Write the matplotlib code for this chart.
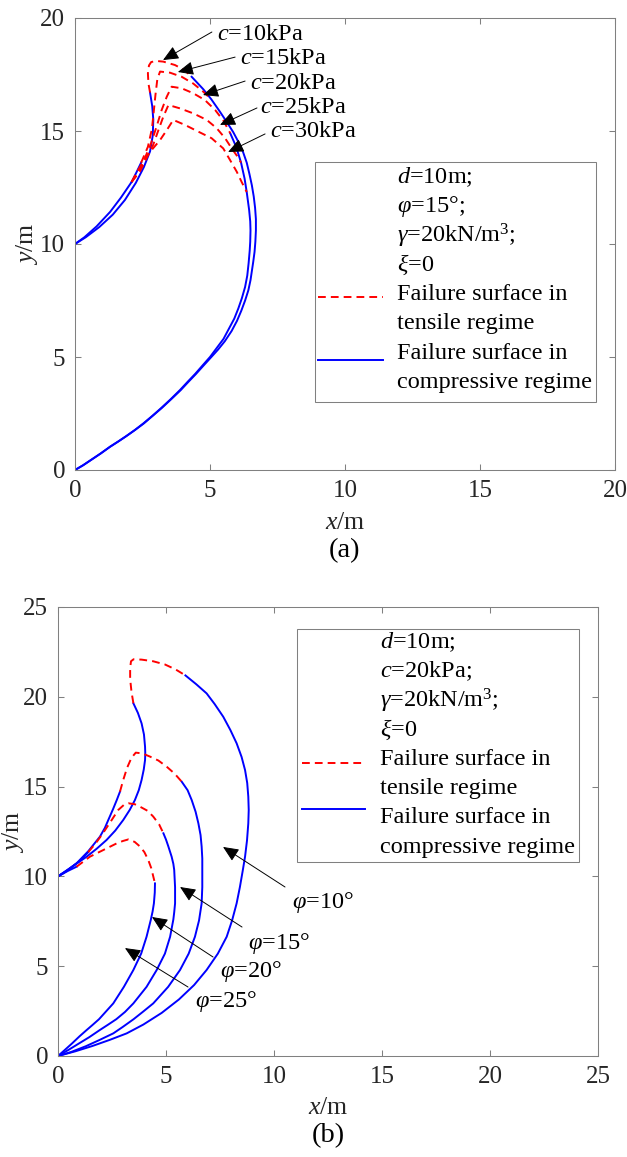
"""Failure surfaces for several cohesions (a) and friction angles (b)."""

import matplotlib

matplotlib.use("Agg")
import matplotlib.pyplot as plt
from matplotlib.lines import Line2D
from matplotlib.patches import Rectangle

FIG_W, FIG_H, DPI = 627, 1157, 100
GRAY = "#808080"
TEXT_COLOR = "#262626"

# ---------------------------------------------------------------- panel (a) data
# left branch of the c=10kPa surface (compressive)
A_C10_LEFT_X = [0.0, 0.4, 0.9, 1.4, 1.85, 2.25, 2.55, 2.78, 2.88, 2.9, 2.86, 2.78]
A_C10_LEFT_Y = [10.0, 10.3, 10.75, 11.3, 11.95, 12.7, 13.4, 14.1, 14.8, 15.5, 16.1, 16.7]
A_C10_TENS_X = [2.78, 2.72, 2.7, 2.74, 2.82, 3.0, 3.27, 3.7, 4.05, 4.32]
A_C10_TENS_Y = [16.7, 17.1, 17.55, 17.9, 18.05, 18.1, 18.07, 17.92, 17.7, 17.4]

# left branch shared by c=15..30kPa (compressive)
A_SHARED_LEFT_X = [0.0, 0.35, 0.8, 1.3, 1.7, 2.1]
A_SHARED_LEFT_Y = [10.0, 10.3, 10.78, 11.42, 12.05, 12.75]
A_C15_LEFT_X = [2.1, 2.28, 2.45]
A_C15_LEFT_Y = [12.75, 13.18, 13.6]

# outer right branch (c=10, c=15) and inner right branch (c=20..30)
A_OUTER_X = [4.32, 4.75, 5.05, 5.37, 5.62, 5.86, 6.06, 6.23, 6.36, 6.46, 6.55, 6.62, 6.67,
             6.7, 6.7, 6.68, 6.65, 6.6, 6.55, 6.5, 6.42, 6.3, 6.16, 6.0, 5.8, 5.55, 5.3,
             5.05, 4.76, 4.48, 4.2, 3.92, 3.57, 3.22, 2.88, 2.55, 2.22, 1.9, 1.6, 1.3,
             0.95, 0.6, 0.3, 0.0]
A_OUTER_Y = [17.4, 16.85, 16.4, 15.85, 15.4, 14.95, 14.5, 14.05, 13.6, 13.1, 12.6, 12.1,
             11.6, 11.1, 10.6, 10.1, 9.65, 9.2, 8.8, 8.4, 7.95, 7.5, 7.05, 6.6, 6.15, 5.7,
             5.33, 5.0, 4.62, 4.25, 3.9, 3.54, 3.14, 2.75, 2.4, 2.06, 1.77, 1.5, 1.26,
             1.03, 0.73, 0.45, 0.21, 0.0]
A_INNER_X = [5.75, 5.97, 6.15, 6.28, 6.36, 6.45, 6.49, 6.5, 6.49, 6.47, 6.43, 6.38, 6.3,
             6.18, 6.05, 5.9, 5.7, 5.5, 5.25, 5.0, 4.72, 4.45, 4.17, 3.89, 3.55, 3.2, 2.87,
             2.53, 2.22, 1.9, 1.6, 1.3, 0.95, 0.6, 0.3, 0.0]
A_INNER_Y = [14.9, 14.3, 13.6, 12.9, 12.3, 11.5, 11.0, 10.6, 10.1, 9.7, 9.15, 8.6, 8.1,
             7.6, 7.15, 6.7, 6.25, 5.8, 5.4, 5.0, 4.62, 4.25, 3.9, 3.54, 3.14, 2.75, 2.4,
             2.06, 1.77, 1.5, 1.26, 1.03, 0.73, 0.45, 0.21, 0.0]

# tensile caps
A_C15_TENS_X = [2.45, 2.7, 2.85, 2.92, 2.98, 3.05, 3.15, 3.52, 3.95, 4.38, 4.75, 5.05]
A_C15_TENS_Y = [13.6, 14.3, 15.1, 15.9, 16.6, 17.3, 17.63, 17.58, 17.4, 17.1, 16.74, 16.4]
A_C20_TENS_X = [2.1, 2.3, 2.55, 2.8, 3.02, 3.21, 3.4, 3.58, 3.95, 4.38, 4.81, 5.19, 5.5, 5.75]
A_C20_TENS_Y = [12.75, 13.1, 13.7, 14.4, 15.19, 15.93, 16.52, 16.96, 16.89, 16.67, 16.37,
                15.93, 15.45, 14.9]
A_C25_TENS_X = [2.1, 2.4, 2.65, 2.9, 3.09, 3.27, 3.46, 3.89, 4.38, 4.88, 5.25, 5.56, 5.82,
                6.0, 6.15]
A_C25_TENS_Y = [12.75, 13.2, 13.8, 14.4, 15.04, 15.63, 16.15, 16.0, 15.78, 15.49, 15.12,
                14.68, 14.2, 13.9, 13.6]
A_C30_TENS_X = [2.1, 2.3, 2.55, 2.84, 3.15, 3.4, 3.64, 4.07, 4.57, 5.06, 5.49, 5.74, 5.99,
                6.17, 6.36]
A_C30_TENS_Y = [12.75, 13.2, 13.7, 14.16, 14.6, 15.04, 15.49, 15.27, 14.97, 14.68, 14.23,
                13.72, 13.2, 12.75, 12.3]

A_LABELS = ["$c$=10kPa", "$c$=15kPa", "$c$=20kPa", "$c$=25kPa", "$c$=30kPa"]
A_TIP_X = [3.26, 3.81, 4.74, 5.37, 5.67]
A_TIP_Y = [18.14, 17.61, 16.59, 15.27, 14.07]
A_TAIL_X = [5.07, 5.93, 6.30, 6.74, 7.04]
A_TAIL_Y = [19.38, 18.27, 17.21, 16.02, 14.87]
A_TEXT_X = [5.26, 6.11, 6.48, 6.85, 7.22]
A_TEXT_Y = [19.25, 18.23, 17.12, 16.02, 14.96]

A_PARAMS = ["$d$=10m;", r"$\varphi$=15°;", r"$\gamma$=20kN/m$^3$;", r"$\xi$=0",
            "Failure surface in", "tensile regime", "Failure surface in", "compressive regime"]

# ---------------------------------------------------------------- panel (b) data
B_P10_LEFT_X = [0.0, 0.6, 1.33, 1.8, 2.25, 2.65, 3.02, 3.32, 3.56, 3.74, 3.87, 3.97, 4.03,
                4.04, 4.03, 3.98, 3.87, 3.7, 3.49]
B_P10_LEFT_Y = [10.0, 10.5, 11.1, 11.55, 12.03, 12.55, 13.14, 13.7, 14.25, 14.8, 15.37,
                15.95, 16.48, 16.85, 17.22, 17.9, 18.52, 19.1, 19.64]
B_P10_TENS_X = [3.49, 3.4, 3.34, 3.34, 3.38, 3.5, 3.87, 4.4, 4.95, 5.45, 5.9]
B_P10_TENS_Y = [19.64, 20.3, 21.0, 21.6, 21.98, 22.09, 22.07, 21.98, 21.8, 21.52, 21.19]
B_P10_RIGHT_X = [5.9, 6.4, 6.88, 7.25, 7.65, 7.98, 8.27, 8.5, 8.66, 8.76, 8.81, 8.83, 8.81,
                 8.75, 8.66, 8.55, 8.42, 8.27, 8.06, 7.81, 7.4, 6.88, 6.3, 5.6, 4.8, 3.95,
                 3.18, 2.4, 1.6, 0.8, 0.0]
B_P10_RIGHT_Y = [21.19, 20.7, 20.19, 19.6, 18.89, 18.15, 17.41, 16.65, 15.92, 15.2, 14.44,
                 13.7, 12.95, 12.0, 11.1, 10.3, 9.4, 8.5, 7.55, 6.64, 5.7, 4.79, 3.95, 3.15,
                 2.4, 1.75, 1.26, 0.9, 0.56, 0.26, 0.0]

B_P15_LEFT_X = [0.0, 0.4, 0.86, 1.4, 1.94, 2.17, 2.35, 2.55, 2.72, 2.87]
B_P15_LEFT_Y = [10.0, 10.3, 10.73, 11.4, 12.21, 12.7, 13.2, 13.75, 14.25, 14.72]
B_P15_TENS_X = [2.87, 3.02, 3.2, 3.4, 3.6, 3.9, 4.26, 4.65, 5.03, 5.4, 5.73]
B_P15_TENS_Y = [14.72, 15.37, 16.05, 16.6, 16.89, 16.85, 16.67, 16.45, 16.11, 15.72, 15.27]
B_P15_RIGHT_X = [5.73, 6.0, 6.19, 6.37, 6.5, 6.6, 6.65, 6.68, 6.68, 6.68, 6.65, 6.53, 6.34,
                 6.05, 5.65, 5.1, 4.41, 3.95, 3.5, 3.0, 2.56, 1.9, 1.3, 0.6, 0.0]
B_P15_RIGHT_Y = [15.27, 14.8, 14.25, 13.6, 12.95, 12.3, 11.66, 11.0, 10.4, 9.4, 8.5, 7.55,
                 6.64, 5.7, 4.79, 3.85, 2.93, 2.48, 2.05, 1.62, 1.26, 0.88, 0.55, 0.22, 0.0]

B_P20_LEFT_X = [0.0, 0.5, 1.0, 1.4]
B_P20_LEFT_Y = [10.0, 10.4, 10.85, 11.35]
B_P20_TENS_X = [1.4, 1.75, 2.05, 2.41, 2.79, 3.05, 3.26, 3.55, 3.8, 4.15, 4.41, 4.68, 4.88]
B_P20_TENS_Y = [11.35, 11.85, 12.35, 13.0, 13.7, 13.98, 14.07, 14.02, 13.88, 13.65, 13.33,
                12.9, 12.4]
B_P20_RIGHT_X = [4.88, 5.0, 5.1, 5.26, 5.34, 5.38, 5.42, 5.42, 5.38, 5.34, 5.19, 4.95, 4.57,
                 4.1, 3.49, 3.1, 2.7, 2.3, 1.94, 1.45, 1.0, 0.5, 0.0]
B_P20_RIGHT_Y = [12.4, 12.05, 11.7, 11.1, 10.7, 10.36, 9.4, 8.5, 8.0, 7.6, 6.64, 5.7, 4.79,
                 3.85, 2.93, 2.45, 2.05, 1.73, 1.45, 1.05, 0.72, 0.35, 0.0]

B_P25_LEFT_X = [0.0, 0.45, 0.86]
B_P25_LEFT_Y = [10.0, 10.3, 10.54]
B_P25_TENS_X = [0.86, 1.48, 2.1, 2.72, 3.0, 3.26, 3.55, 3.8, 4.0, 4.18, 4.32, 4.41, 4.49]
B_P25_TENS_Y = [10.54, 11.1, 11.47, 11.84, 11.97, 12.06, 11.92, 11.66, 11.35, 10.91, 10.45,
                10.0, 9.61]
B_P25_RIGHT_X = [4.49, 4.48, 4.44, 4.38, 4.3, 4.1, 3.85, 3.49, 3.05, 2.56, 2.2, 1.9, 1.6,
                 1.33, 1.0, 0.65, 0.3, 0.0]
B_P25_RIGHT_Y = [9.61, 9.1, 8.5, 8.05, 7.6, 6.64, 5.7, 4.79, 3.85, 2.93, 2.45, 2.05, 1.73,
                 1.45, 1.1, 0.7, 0.32, 0.0]

B_LABELS = [r"$\varphi$=10°", r"$\varphi$=15°", r"$\varphi$=20°", r"$\varphi$=25°"]
B_TIP_X = [7.64, 5.65, 4.35, 3.10]
B_TIP_Y = [11.64, 9.41, 7.74, 6.01]
B_TAIL_X = [10.51, 8.52, 7.18, 6.02]
B_TAIL_Y = [9.41, 7.18, 5.51, 3.84]
B_TEXT_X = [10.83, 8.80, 7.50, 6.34]
B_TEXT_Y = [8.52, 6.29, 4.68, 3.01]

B_PARAMS = ["$d$=10m;", "$c$=20kPa;", r"$\gamma$=20kN/m$^3$;", r"$\xi$=0",
            "Failure surface in", "tensile regime", "Failure surface in", "compressive regime"]

TENSILE = dict(color="#ff0000", linestyle=(0, (4.0, 2.6)), linewidth=1.4)
COMPRESSIVE = dict(color="#0000ff", linestyle="-", linewidth=1.4)


def _fx(px):
    return px / FIG_W


def _fy(py):
    return 1.0 - py / FIG_H


def _axes_rect(left, top, right, bottom):
    return [_fx(left), _fy(bottom), (right - left) / FIG_W, (bottom - top) / FIG_H]


def _style_axes(ax, limit):
    ax.set_xlim(0, limit)
    ax.set_ylim(0, limit)
    ticks = list(range(0, limit + 1, 5))
    ax.set_xticks(ticks)
    ax.set_yticks(ticks)
    ax.tick_params(direction="in", top=True, right=True, length=4, width=0.75,
                   color=GRAY, labelsize=18, pad=7, labelcolor=TEXT_COLOR)
    for spine in ax.spines.values():
        spine.set_color(GRAY)
        spine.set_linewidth(0.75)


def _axis_labels(ax, xlabel_frac, ylabel_frac):
    ax.set_xlabel("$x$/m", fontsize=18.5, color=TEXT_COLOR)
    ax.set_ylabel("$y$/m", fontsize=18.5, color=TEXT_COLOR)
    ax.xaxis.label.set_va("center")
    ax.yaxis.label.set_va("center")
    ax.xaxis.set_label_coords(0.5, xlabel_frac)
    ax.yaxis.set_label_coords(ylabel_frac, 0.5)


def _annotate(ax, labels, tip_x, tip_y, tail_x, tail_y, text_x, text_y):
    for i, label in enumerate(labels):
        ax.annotate("", xy=(tip_x[i], tip_y[i]), xytext=(tail_x[i], tail_y[i]),
                    arrowprops=dict(arrowstyle="-|>,head_length=0.95,head_width=0.42",
                                    color="black", lw=0.7, shrinkA=0, shrinkB=0,
                                    mutation_scale=10))
        ax.text(text_x[i], text_y[i], label, ha="left", va="center", fontsize=17.5,
                color="black")


def _param_box(fig, box, text_x, first_y, step, lines, handle_x, red_y, blue_y):
    x0, y0, x1, y1 = box
    fig.add_artist(Rectangle((_fx(x0), _fy(y1)), (x1 - x0) / FIG_W, (y1 - y0) / FIG_H,
                             transform=fig.transFigure, facecolor="white",
                             edgecolor=GRAY, linewidth=0.75, zorder=3))
    for i, line in enumerate(lines):
        fig.text(_fx(text_x), _fy(first_y + i * step), line, ha="left", va="center",
                 fontsize=17.5, color="black", zorder=4)
    hx = [_fx(handle_x[0]), _fx(handle_x[1])]
    fig.add_artist(Line2D(hx, [_fy(red_y)] * 2, transform=fig.transFigure, zorder=4,
                          **TENSILE))
    fig.add_artist(Line2D(hx, [_fy(blue_y)] * 2, transform=fig.transFigure, zorder=4,
                          **COMPRESSIVE))


def _plot_panel_a(ax):
    ax.plot(A_C10_LEFT_X, A_C10_LEFT_Y, **COMPRESSIVE)
    ax.plot(A_SHARED_LEFT_X, A_SHARED_LEFT_Y, **COMPRESSIVE)
    ax.plot(A_C15_LEFT_X, A_C15_LEFT_Y, **COMPRESSIVE)
    ax.plot(A_OUTER_X, A_OUTER_Y, **COMPRESSIVE)
    ax.plot(A_INNER_X, A_INNER_Y, **COMPRESSIVE)
    for xs, ys in [(A_C10_TENS_X, A_C10_TENS_Y), (A_C15_TENS_X, A_C15_TENS_Y),
                   (A_C20_TENS_X, A_C20_TENS_Y), (A_C25_TENS_X, A_C25_TENS_Y),
                   (A_C30_TENS_X, A_C30_TENS_Y)]:
        ax.plot(xs, ys, **TENSILE)
    _annotate(ax, A_LABELS, A_TIP_X, A_TIP_Y, A_TAIL_X, A_TAIL_Y, A_TEXT_X, A_TEXT_Y)


def _plot_panel_b(ax):
    curves = [
        (B_P10_LEFT_X, B_P10_LEFT_Y, B_P10_TENS_X, B_P10_TENS_Y, B_P10_RIGHT_X, B_P10_RIGHT_Y),
        (B_P15_LEFT_X, B_P15_LEFT_Y, B_P15_TENS_X, B_P15_TENS_Y, B_P15_RIGHT_X, B_P15_RIGHT_Y),
        (B_P20_LEFT_X, B_P20_LEFT_Y, B_P20_TENS_X, B_P20_TENS_Y, B_P20_RIGHT_X, B_P20_RIGHT_Y),
        (B_P25_LEFT_X, B_P25_LEFT_Y, B_P25_TENS_X, B_P25_TENS_Y, B_P25_RIGHT_X, B_P25_RIGHT_Y),
    ]
    for lx, ly, tx, ty, rx, ry in curves:
        ax.plot(lx, ly, **COMPRESSIVE)
        ax.plot(rx, ry, **COMPRESSIVE)
        ax.plot(tx, ty, **TENSILE)
    _annotate(ax, B_LABELS, B_TIP_X, B_TIP_Y, B_TAIL_X, B_TAIL_Y, B_TEXT_X, B_TEXT_Y)


def main() -> None:
    plt.rcParams["font.family"] = ["Liberation Serif", "DejaVu Serif"]
    plt.rcParams["mathtext.fontset"] = "custom"
    plt.rcParams["mathtext.rm"] = "Liberation Serif"
    plt.rcParams["mathtext.it"] = "Liberation Serif:italic"
    plt.rcParams["mathtext.bf"] = "Liberation Serif:bold"

    fig = plt.figure(figsize=(FIG_W / DPI, FIG_H / DPI), dpi=DPI)
    ax_a = fig.add_axes(_axes_rect(75, 18, 615, 470))
    ax_b = fig.add_axes(_axes_rect(58, 607, 598, 1056))

    _style_axes(ax_a, 20)
    _style_axes(ax_b, 25)
    _plot_panel_a(ax_a)
    _plot_panel_b(ax_b)
    _axis_labels(ax_a, -0.117, -0.089)
    _axis_labels(ax_b, -0.116, -0.084)

    fig.text(_fx(345), _fy(551), "(a)", ha="center", va="center", fontsize=20.5)
    fig.text(_fx(328), _fy(1136), "(b)", ha="center", va="center", fontsize=20.5)

    _param_box(fig, (315, 162, 596, 402), 397, 177, 29.4, A_PARAMS, (318, 383), 297, 360)
    _param_box(fig, (297, 629, 579, 862), 380, 642, 29.3, B_PARAMS, (302, 365), 763, 809)

    fig.savefig("out.png", dpi=DPI)
    plt.close(fig)


if __name__ == "__main__":
    main()
